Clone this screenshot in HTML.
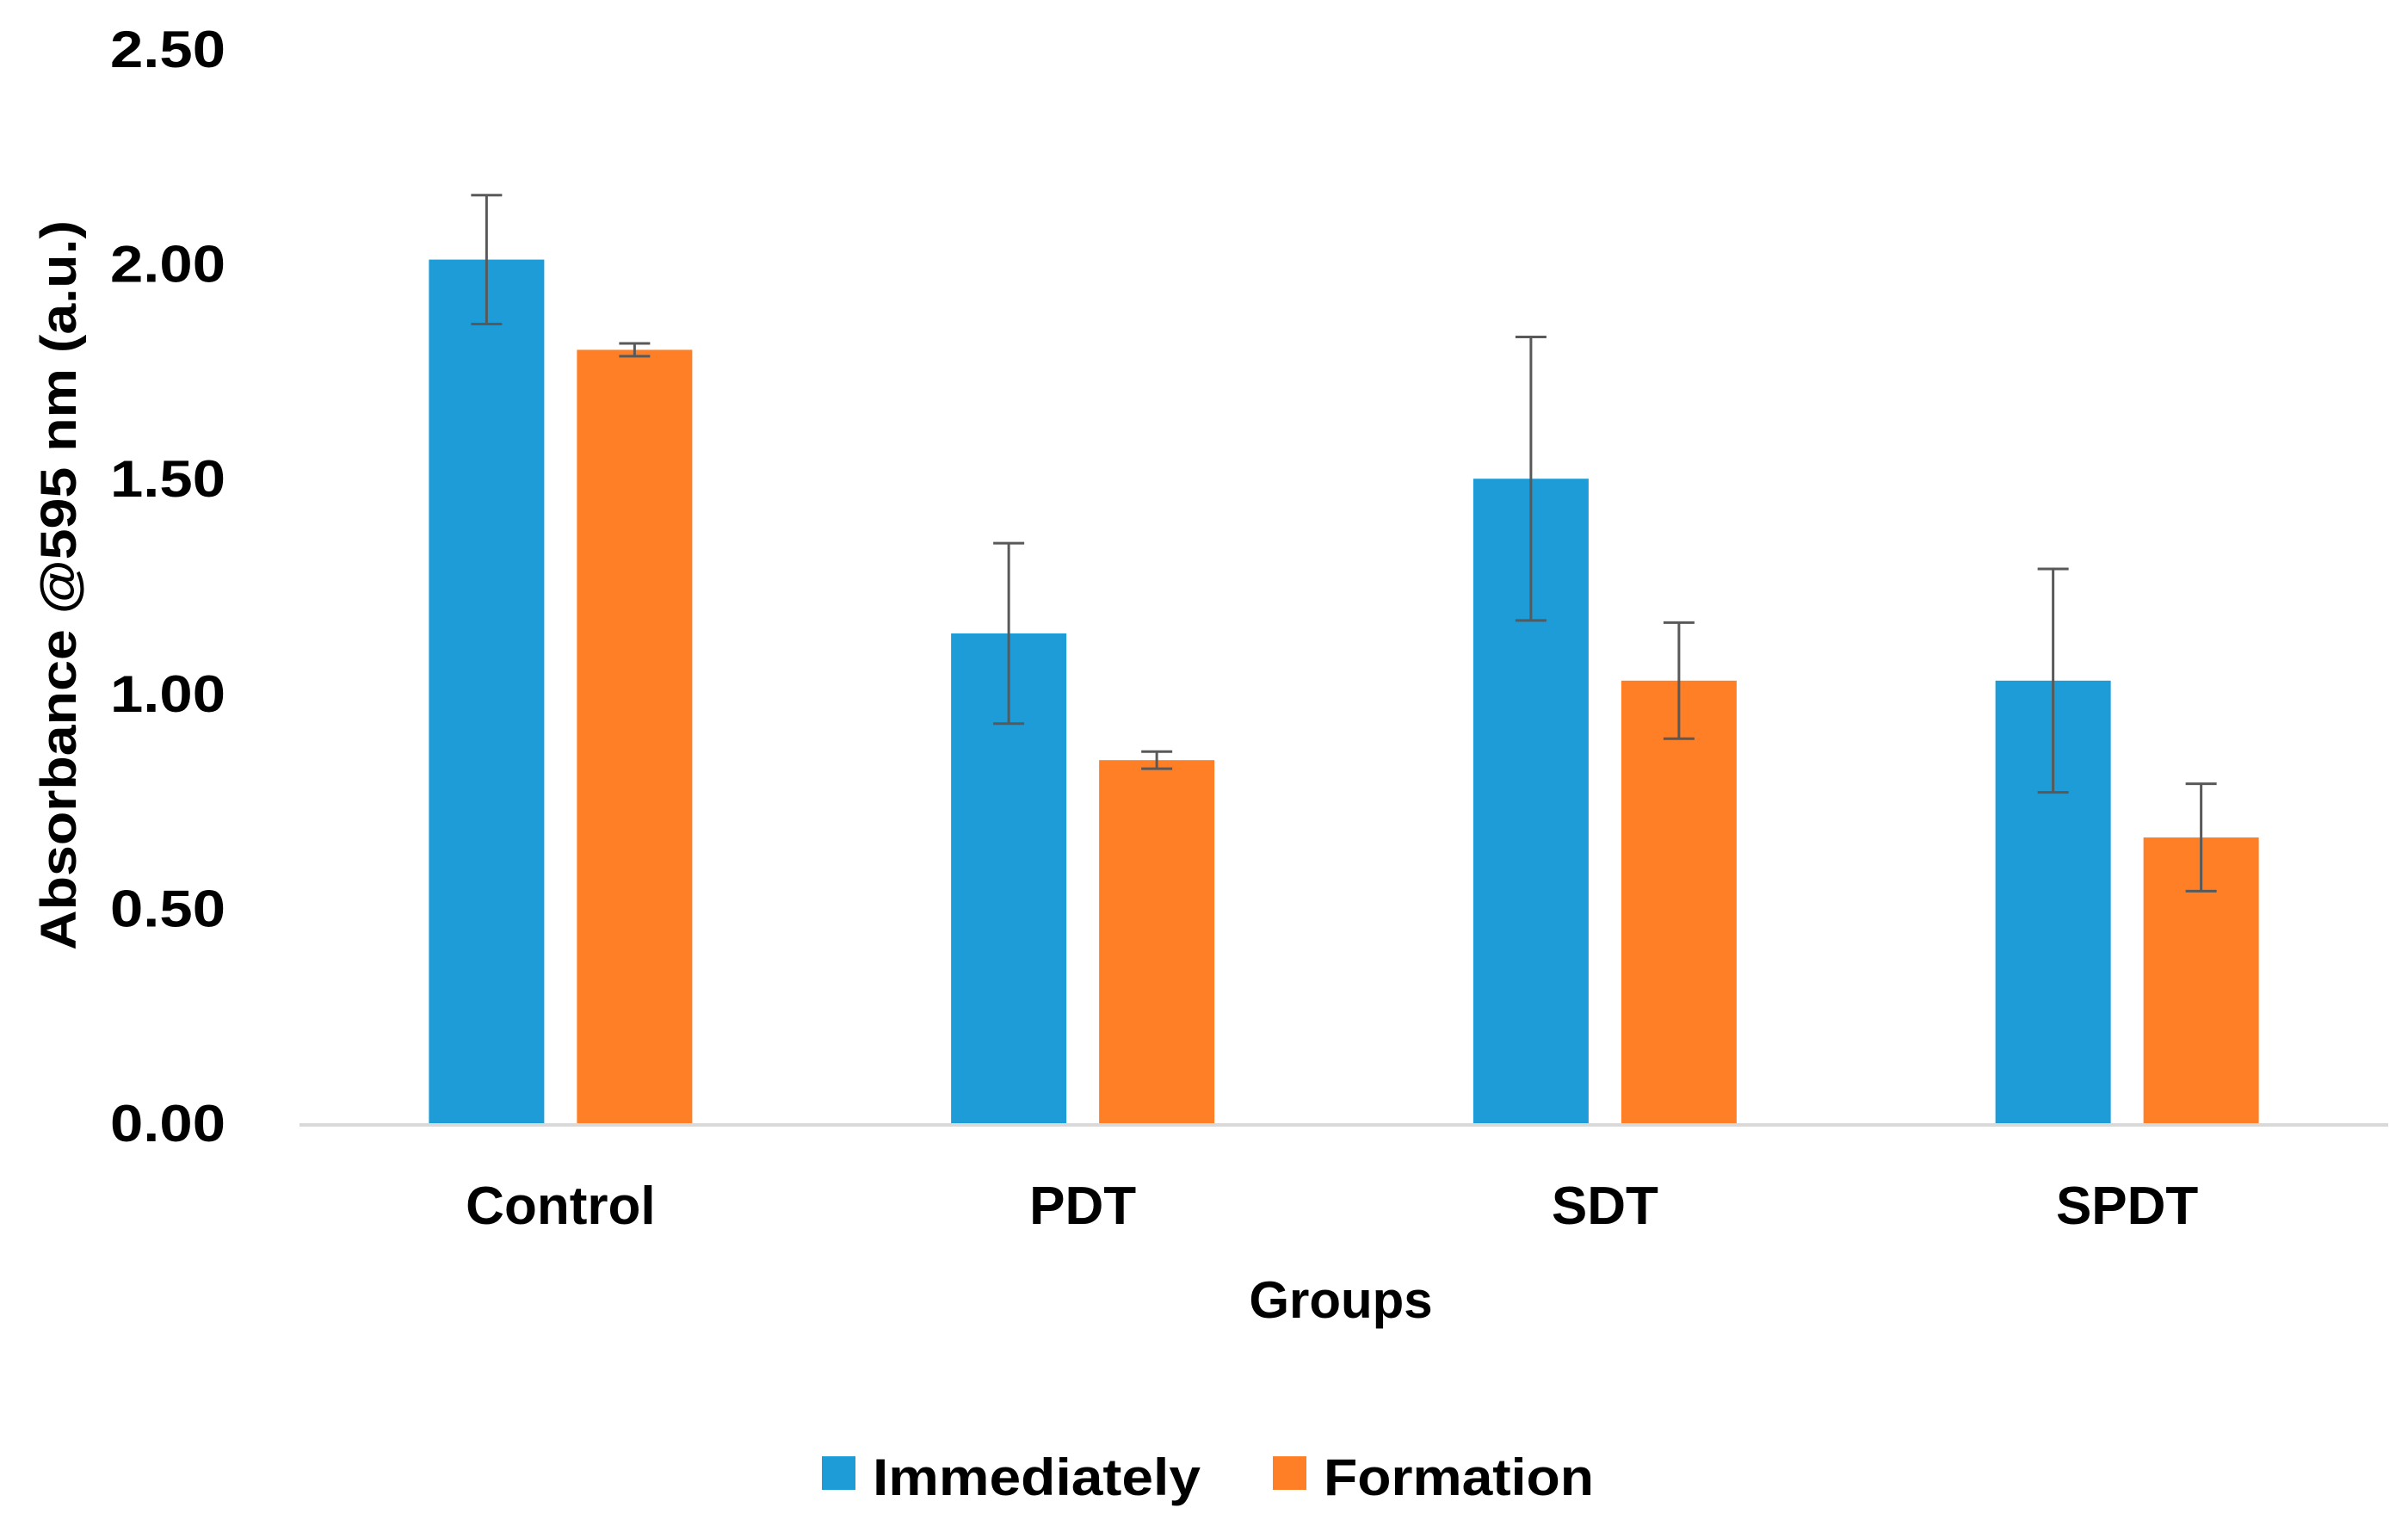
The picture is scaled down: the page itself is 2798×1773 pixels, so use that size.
<!DOCTYPE html>
<html><head><meta charset="utf-8"><style>
html,body{margin:0;padding:0;background:#fff;}
svg{display:block;font-family:"Liberation Sans",sans-serif;font-weight:bold;}
</style></head><body>
<svg id="chart" width="2798" height="1773" viewBox="0 0 2798 1773"></svg>
<script>
const categories = ["Control","PDT","SDT","SPDT"];
const immediately = [2.01, 1.14, 1.50, 1.03];
const immediatelyErr = [0.15, 0.21, 0.33, 0.26];
const formation = [1.80, 0.845, 1.03, 0.665];
const formationErr = [0.015, 0.02, 0.135, 0.125];
const yTicks = [0, 0.5, 1.0, 1.5, 2.0, 2.5];
const tickLabels = ["0.00","0.50","1.00","1.50","2.00","2.50"];

const NS = "http://www.w3.org/2000/svg";
const svg = document.getElementById('chart');
const x0 = 348, x1 = 2775, yZero = 1305, yTop = 57, yMax = 2.5;
const y = v => yZero - (v / yMax) * (yZero - yTop);
const band = (x1 - x0) / categories.length;
const xc = i => x0 + band * (i + 0.5);
const barW = 134, off = 86;
function mk(tag, attrs, parent) {
  const e = document.createElementNS(NS, tag);
  for (const k in attrs) e.setAttribute(k, attrs[k]);
  (parent || svg).appendChild(e);
  return e;
}
yTicks.forEach((v, i) => {
  const t = mk('text', {x: 128, y: y(v) + 21, 'font-size': 60, textLength: 134, lengthAdjust: 'spacingAndGlyphs', fill: '#000'});
  t.textContent = tickLabels[i];
  
  
});
const ax = mk('line', {x1: x0, x2: x1, y1: yZero + 2, y2: yZero + 2, stroke: '#d9d9d9', 'stroke-width': 4});


function drawSeries(vals, errs, color, dx, name) {
  vals.forEach((v, i) => {
    const cx = xc(i) + dx;
    const r = mk('rect', {x: cx - barW / 2, y: y(v), width: barW, height: yZero - y(v), fill: color});
    
    
    const g = mk('g', {stroke: '#595959', 'stroke-width': 3});
    
    
    const hi = y(v + errs[i]), lo = y(v - errs[i]);
    mk('line', {x1: cx, x2: cx, y1: hi, y2: lo}, g);
    mk('line', {x1: cx - 18, x2: cx + 18, y1: hi, y2: hi}, g);
    mk('line', {x1: cx - 18, x2: cx + 18, y1: lo, y2: lo}, g);
  });
}
drawSeries(immediately, immediatelyErr, '#1e9cd8', -off, 'immediately');
drawSeries(formation, formationErr, '#fe7f26', off, 'formation');
categories.forEach((c, i) => {
  const t = mk('text', {x: xc(i), y: 1422, 'text-anchor': 'middle', 'font-size': 62, fill: '#000'});
  t.textContent = c;
  
  
});
</script>
<script>
(function(){
const svg = document.getElementById('chart');
const NS = "http://www.w3.org/2000/svg";
function mk(tag, attrs) { const e = document.createElementNS(NS, tag); for (const k in attrs) e.setAttribute(k, attrs[k]); svg.appendChild(e); return e; }
let t = mk('text', {x: 0, y: 0, transform: 'translate(88,680) rotate(-90)', 'text-anchor': 'middle', 'font-size': 58, textLength: 848, lengthAdjust: 'spacingAndGlyphs', fill: '#000'});
t.textContent = 'Absorbance @595 nm (a.u.)';


t = mk('text', {x: 1558, y: 1531, 'text-anchor': 'middle', 'font-size': 60, fill: '#000'});
t.textContent = 'Groups';


let r = mk('rect', {x: 955, y: 1692, width: 39, height: 39, fill: '#1e9cd8'});


t = mk('text', {x: 1014, y: 1737, 'font-size': 60, textLength: 381, lengthAdjust: 'spacingAndGlyphs', fill: '#000'});
t.textContent = 'Immediately';


r = mk('rect', {x: 1479, y: 1692, width: 39, height: 39, fill: '#fe7f26'});


t = mk('text', {x: 1538, y: 1737, 'font-size': 60, textLength: 314, lengthAdjust: 'spacingAndGlyphs', fill: '#000'});
t.textContent = 'Formation';


})();
</script>
</body></html>
